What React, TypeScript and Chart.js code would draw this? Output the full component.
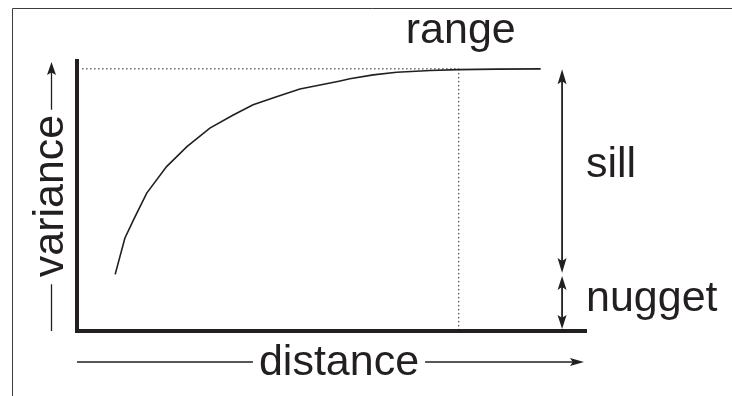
import { useEffect, useRef } from "react";
import { Chart, registerables } from "chart.js";

Chart.register(...registerables);

// Semivariogram model curve: lag distance vs. semivariance
const distance = [7.5, 9.4, 11.1, 13.7, 17.6, 21.6, 26.1, 30.7, 34.6, 39.2, 43.8, 51.7, 53.6, 58.2, 62.8, 69.4, 74.9, 82.4, 91.1];
const variance = [0.216, 0.354, 0.424, 0.526, 0.627, 0.703, 0.774, 0.824, 0.863, 0.894, 0.923, 0.954, 0.962, 0.977, 0.987, 0.994, 0.997, 0.999, 1.0];

// Model parameters
const NUGGET = 0.216;
const SILL = 1.0;
const RANGE = 75;

// Axis extents and annotation positions (data units)
const X_MAX = 100;
const Y_MAX = 1.03;
const GUIDE_START = 1;
const ARROW_AT = 95.3;

const INK = "#231f20";
const FONT_FAMILY = '"Liberation Sans", Arial, Helvetica, sans-serif';

type Ctx = CanvasRenderingContext2D;

function arrowHead(ctx: Ctx, tipX: number, tipY: number, dx: number, dy: number, len: number, half: number) {
  const bx = tipX - dx * len;
  const by = tipY - dy * len;
  const px = -dy;
  const py = dx;
  ctx.beginPath();
  ctx.moveTo(tipX, tipY);
  ctx.lineTo(bx + px * half, by + py * half);
  ctx.lineTo(tipX - dx * len * 0.8, tipY - dy * len * 0.8);
  ctx.lineTo(bx - px * half, by - py * half);
  ctx.closePath();
  ctx.fill();
}

function line(ctx: Ctx, x1: number, y1: number, x2: number, y2: number) {
  ctx.beginPath();
  ctx.moveTo(x1, y1);
  ctx.lineTo(x2, y2);
  ctx.stroke();
}

const annotations = {
  id: "variogramAnnotations",
  afterDraw(chart: Chart) {
    const ctx = chart.ctx;
    const xs = chart.scales.x;
    const ys = chart.scales.y;
    const area = chart.chartArea;
    ctx.save();

    // frame
    ctx.strokeStyle = "#3c3c3c";
    ctx.lineWidth = 1;
    line(ctx, 12.5, 8.5, chart.width, 8.5);
    line(ctx, 12.5, 8.5, 12.5, chart.height);

    ctx.strokeStyle = INK;
    ctx.fillStyle = INK;

    // sill and nugget arrows
    const ax = xs.getPixelForValue(ARROW_AT);
    const ySill = ys.getPixelForValue(SILL);
    const yNug = ys.getPixelForValue(NUGGET);
    const yZero = ys.getPixelForValue(0);
    ctx.lineWidth = 1.8;
    line(ctx, ax, ySill + 8, ax, yNug - 8);
    arrowHead(ctx, ax, ySill + 0.5, 0, -1, 15, 4.5);
    arrowHead(ctx, ax, yNug - 1.5, 0, 1, 15, 4.5);
    line(ctx, ax, yNug + 9, ax, yZero - 9);
    arrowHead(ctx, ax, yNug + 1.5, 0, -1, 14, 4.5);
    arrowHead(ctx, ax, yZero - 2, 0, 1, 14, 4.5);

    ctx.font = `43px ${FONT_FAMILY}`;
    ctx.textBaseline = "alphabetic";

    // range label
    ctx.textAlign = "center";
    ctx.fillText("range", xs.getPixelForValue(RANGE) + 2, 43);

    // sill / nugget labels
    ctx.textAlign = "left";
    ctx.fillText("sill", area.right, 177);
    ctx.fillText("nugget", area.right, 311);

    // distance axis title with arrow
    ctx.lineWidth = 1.3;
    const dText = "distance";
    const dW = ctx.measureText(dText).width;
    const dCx = area.left + 262;
    const dY = area.bottom + 31;
    ctx.textAlign = "center";
    ctx.fillText(dText, dCx, area.bottom + 44);
    line(ctx, area.left, dY, dCx - dW / 2 - 6, dY);
    line(ctx, dCx + dW / 2 + 6, dY, area.right - 8, dY);
    arrowHead(ctx, area.right - 2, dY, 1, 0, 14, 4);

    // variance axis title with arrow
    const vText = "variance";
    const vW = ctx.measureText(vText).width;
    const vCy = (area.top + area.bottom) / 2;
    const vX = area.left - 25.5;
    ctx.save();
    ctx.translate(area.left - 14, vCy);
    ctx.rotate(-Math.PI / 2);
    ctx.textAlign = "center";
    ctx.fillText(vText, 0, 0);
    ctx.restore();
    line(ctx, vX, area.bottom, vX, vCy + vW / 2 + 7);
    line(ctx, vX, vCy - vW / 2 - 5, vX, area.top + 8);
    arrowHead(ctx, vX, area.top + 1, 0, -1, 13, 4.5);

    ctx.restore();
  },
};

export default function App() {
  const canvasRef = useRef<HTMLCanvasElement | null>(null);

  useEffect(() => {
    const canvas = canvasRef.current;
    if (!canvas) return;
    const curve = distance.map((d, i) => ({ x: d, y: variance[i] }));
    const chart = new Chart(canvas, {
      type: "scatter",
      data: {
        datasets: [
          {
            data: curve,
            showLine: true,
            borderColor: INK,
            borderWidth: 1.6,
            pointRadius: 0,
            tension: 0,
          },
          {
            data: [
              { x: GUIDE_START, y: SILL },
              { x: RANGE, y: SILL },
            ],
            showLine: true,
            borderColor: INK,
            borderWidth: 1,
            borderDash: [1.5, 2.5],
            pointRadius: 0,
          },
          {
            data: [
              { x: RANGE, y: SILL },
              { x: RANGE, y: 0 },
            ],
            showLine: true,
            borderColor: INK,
            borderWidth: 1,
            borderDash: [1.5, 2.5],
            pointRadius: 0,
          },
        ],
      },
      options: {
        responsive: false,
        animation: false,
        devicePixelRatio: 1,
        layout: { padding: { left: 77, right: 146, top: 61, bottom: 65 } },
        plugins: {
          legend: { display: false },
          tooltip: { enabled: false },
        },
        scales: {
          x: {
            type: "linear",
            min: 0,
            max: X_MAX,
            ticks: { display: false },
            grid: { display: false, drawTicks: false },
            border: { display: true, width: 4, color: INK },
          },
          y: {
            type: "linear",
            min: 0,
            max: Y_MAX,
            ticks: { display: false },
            grid: { display: false, drawTicks: false },
            border: { display: true, width: 4, color: INK },
          },
        },
      },
      plugins: [annotations],
    });
    return () => chart.destroy();
  }, []);

  return (
    <div style={{ position: "fixed", left: 0, top: 0, width: 732, height: 396, background: "#fff" }}>
      <canvas ref={canvasRef} width={732} height={396} />
    </div>
  );
}
